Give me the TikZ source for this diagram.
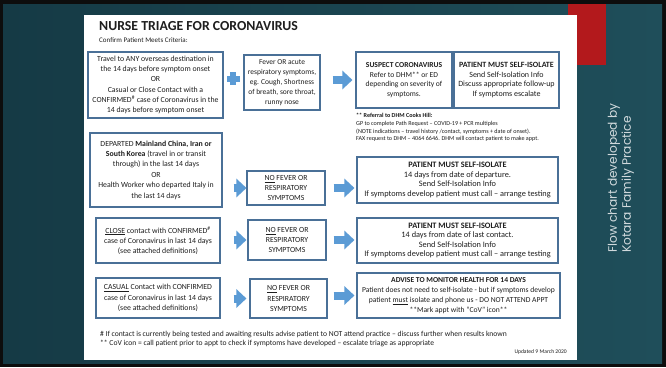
\documentclass[tikz,border=0pt]{standalone}
\usepackage{fontspec}
\setmainfont{Carlito}
\newfontfamily\sidefont{Poppins}
\usetikzlibrary{arrows.meta,calc}
\definecolor{bgA}{HTML}{153A45}
\definecolor{bgB}{HTML}{1F4E5A}
\definecolor{boxline}{HTML}{4A7097}
\definecolor{arrowblue}{HTML}{5B9BD5}
\definecolor{redblk}{HTML}{B3191C}
\definecolor{txt}{HTML}{1E1E1E}
\definecolor{sidegray}{HTML}{D0D9DC}
\begin{document}
\begin{tikzpicture}[x=1pt,y=-1pt,
  box/.style={draw=boxline,line width=1.1pt,fill=white,align=center,inner sep=1pt,text=txt,
    font=\fontsize{7.8}{10.2}\selectfont},
  barrow/.style={draw=arrowblue,line width=8pt,-{Triangle[length=10pt,width=18pt]}},
  plain/.style={anchor=west,text=txt,inner sep=0pt,align=left}]
\useasboundingbox (0,0) rectangle (666,367);
\fill[black!95] (0,0) rectangle (666,367);
\shade[left color=bgA,right color=bgB] (3,4) rectangle (662,363);
\fill[redblk] (568,4) rectangle (606,65);
\fill[white] (84,15) rectangle (577,360);
% side text
\node[rotate=90,anchor=west,font=\sidefont\fontsize{12.2}{14}\selectfont,text=sidegray,align=left,inner sep=0pt] (side) at (621,253)
  {Flow chart developed by\\Kotara Family Practice};
% title
\node[plain,font=\bfseries\fontsize{13.8}{16}\selectfont] (title) at (99,26.5) {NURSE TRIAGE FOR CORONAVIRUS};
\node[plain,font=\fontsize{7}{8}\selectfont] (sub) at (99,40.5) {Confirm Patient Meets Criteria:};
% row 1
\node[box,minimum width=135,minimum height=66] (A) at (155.5,85)
  {Travel to ANY overseas destination in\\the 14 days before symptom onset\\OR\\Casual or Close Contact with a\\CONFIRMED\textsuperscript{\#} case of Coronavirus in the\\14 days before symptom onset};
\node[box,minimum width=76,minimum height=55,font=\fontsize{7.5}{10}\selectfont] (B) at (282,82.5)
  {Fever OR acute\\respiratory symptoms,\\eg. Cough, Shortness\\of breath, sore throat,\\runny nose};
\node[box,minimum width=96,minimum height=56,font=\fontsize{7.6}{9.6}\selectfont] (C) at (404,80)
  {\textbf{SUSPECT CORONAVIRUS}\\Refer to DHM** or ED\\depending on severity of\\symptoms.};
\node[box,minimum width=105,minimum height=56,font=\fontsize{8}{9.6}\selectfont] (D) at (506.5,80)
  {\textbf{PATIENT MUST SELF-ISOLATE}\\Send Self-Isolation Info\\Discuss appropriate follow-up\\If symptoms escalate};
% plus sign
\fill[arrowblue] (226.5,75.5) rectangle (239.5,81.5);
\fill[arrowblue] (230,72) rectangle (236,85);
% referral note
\node[plain,font=\fontsize{6.1}{7.7}\selectfont] (note) at (356,127.5)
  {\textbf{** Referral to DHM Cooks Hill:}\\GP to complete Path Request -- COVID-19 + PCR multiples\\(NOTE indications -- travel history /contact, symptoms + date of onset).\\FAX request to DHM -- 4064 6646. DHM will contact patient to make appt.};
% row 2
\node[box,minimum width=132,minimum height=74,font=\fontsize{7.8}{10.4}\selectfont] (E) at (156,170)
  {DEPARTED \textbf{Mainland China, Iran or}\\\textbf{South Korea} (travel in or transit\\through) in the last 14 days\\OR\\Health Worker who departed Italy in\\the last 14 days};
\node[box,minimum width=78,minimum height=34] (F) at (286,188)
  {\underline{NO} FEVER OR\\RESPIRATORY\\SYMPTOMS};
\node[box,minimum width=201,minimum height=46,font=\fontsize{8.3}{9.6}\selectfont] (G) at (457.5,180)
  {\textbf{PATIENT MUST SELF-ISOLATE}\\14 days from date of departure.\\Send Self-Isolation Info\\If symptoms develop patient must call -- arrange testing};
% row 3
\node[box,minimum width=124,minimum height=45] (H) at (158,240.5)
  {\underline{CLOSE} contact with CONFIRMED\textsuperscript{\#}\\case of Coronavirus in last 14 days\\(see attached definitions)};
\node[box,minimum width=78,minimum height=40] (I) at (287,240)
  {\underline{NO} FEVER OR\\RESPIRATORY\\SYMPTOMS};
\node[box,minimum width=201,minimum height=45,font=\fontsize{8.3}{9.6}\selectfont] (J) at (457.5,240.5)
  {\textbf{PATIENT MUST SELF-ISOLATE}\\14 days from date of last contact.\\Send Self-Isolation Info\\If symptoms develop patient must call -- arrange testing};
% row 4
\node[box,minimum width=124,minimum height=40] (K) at (158,298)
  {\underline{CASUAL} Contact with CONFIRMED\\case of Coronavirus in last 14 days\\(see attached definitions)};
\node[box,minimum width=77,minimum height=39] (L) at (288.5,298.5)
  {\underline{NO} FEVER OR\\RESPIRATORY\\SYMPTOMS};
\node[box,minimum width=203,minimum height=45,font=\fontsize{7.6}{9.8}\selectfont] (M) at (458.5,295.5)
  {\textbf{ADVISE TO MONITOR HEALTH FOR 14 DAYS}\\Patient does not need to self-isolate - but if symptoms develop\\patient \underline{must} isolate and phone us - DO NOT ATTEND APPT\\**Mark appt with ``CoV'' icon**};
% arrows
\draw[barrow,shorten <=12pt,shorten >=3pt] (B.east |- C.west) -- (C.west);
\draw[barrow,shorten <=11pt] (E.east |- F.west) -- (F.west);
\draw[barrow,shorten <=8pt,shorten >=2pt] (F.east) -- (F.east -| G.west);
\draw[barrow,shorten <=13pt,shorten >=1pt] (H.east |- I.west) -- (I.west);
\draw[barrow,shorten <=7pt,shorten >=2pt] (I.east) -- (I.east -| J.west);
\draw[barrow,shorten <=13pt,shorten >=3pt] (K.east |- L.west) -- (L.west);
\draw[barrow,shorten <=6pt,shorten >=2pt] (L.east |- M.west) -- (M.west);
% footnotes
\node[plain,font=\fontsize{7.6}{8.2}\selectfont] (foot) at (100,339)
  {\# If contact is currently being tested and awaiting results advise patient to NOT attend practice -- discuss further when results known\\** CoV icon = call patient prior to appt to check if symptoms have developed -- escalate triage as appropriate};
\node[anchor=east,text=txt,inner sep=0pt,font=\fontsize{5.6}{7}\selectfont] (upd) at (567,352) {Updated 9 March 2020};
\end{tikzpicture}
\end{document}
